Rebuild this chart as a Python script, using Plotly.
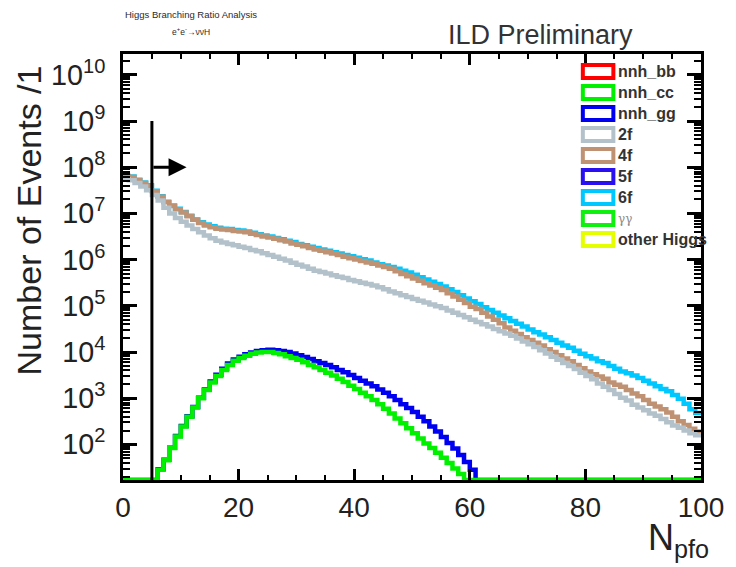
import math
import plotly.graph_objects as go

# ---------------------------------------------------------------------------
# N_pfo histograms, unit bins from 0 to 100.
# Values are log10(events per bin); None marks an empty bin.
# ---------------------------------------------------------------------------
bin_edges = list(range(0, 101))

log10_2f = [
    7.74, 7.72, 7.66, 7.58, 7.50, 7.40, 7.28, 7.12, 7.00, 6.90,
    6.82, 6.74, 6.66, 6.59, 6.52, 6.46, 6.41, 6.37, 6.34, 6.31,
    6.28, 6.25, 6.21, 6.18, 6.14, 6.10, 6.06, 6.02, 5.98, 5.93,
    5.89, 5.85, 5.80, 5.76, 5.73, 5.70, 5.66, 5.63, 5.60, 5.56,
    5.53, 5.50, 5.47, 5.44, 5.40, 5.36, 5.31, 5.27, 5.23, 5.19,
    5.15, 5.11, 5.07, 5.03, 4.99, 4.95, 4.90, 4.85, 4.80, 4.75,
    4.70, 4.65, 4.60, 4.55, 4.50, 4.45, 4.40, 4.35, 4.29, 4.23,
    4.17, 4.11, 4.04, 3.97, 3.90, 3.83, 3.76, 3.70, 3.63, 3.55,
    3.48, 3.41, 3.32, 3.25, 3.18, 3.09, 3.01, 2.95, 2.86, 2.80,
    2.74, 2.67, 2.62, 2.55, 2.48, 2.41, 2.36, 2.30, 2.24, 2.20,
]

log10_4f = [
    7.80, 7.79, 7.72, 7.66, 7.60, 7.48, 7.36, 7.24, 7.16, 7.09,
    7.02, 6.94, 6.86, 6.79, 6.74, 6.70, 6.67, 6.65, 6.64, 6.62,
    6.61, 6.59, 6.56, 6.53, 6.50, 6.48, 6.45, 6.42, 6.39, 6.35,
    6.32, 6.29, 6.25, 6.22, 6.19, 6.16, 6.13, 6.10, 6.06, 6.03,
    6.00, 5.97, 5.94, 5.91, 5.87, 5.84, 5.80, 5.75, 5.69, 5.64,
    5.59, 5.54, 5.49, 5.44, 5.39, 5.34, 5.27, 5.20, 5.13, 5.06,
    4.98, 4.93, 4.85, 4.77, 4.70, 4.62, 4.53, 4.46, 4.39, 4.32,
    4.26, 4.20, 4.14, 4.06, 4.00, 3.93, 3.86, 3.80, 3.72, 3.65,
    3.58, 3.52, 3.47, 3.42, 3.34, 3.29, 3.25, 3.18, 3.10, 3.04,
    2.96, 2.88, 2.82, 2.76, 2.69, 2.60, 2.50, 2.42, 2.34, 2.28,
]

log10_6f = [
    7.81, 7.80, 7.73, 7.67, 7.61, 7.49, 7.37, 7.25, 7.17, 7.10,
    7.03, 6.95, 6.87, 6.81, 6.76, 6.72, 6.69, 6.67, 6.66, 6.64,
    6.63, 6.61, 6.58, 6.55, 6.52, 6.50, 6.47, 6.44, 6.41, 6.38,
    6.34, 6.31, 6.28, 6.25, 6.22, 6.19, 6.16, 6.13, 6.10, 6.07,
    6.04, 6.01, 5.98, 5.94, 5.90, 5.87, 5.84, 5.80, 5.76, 5.72,
    5.67, 5.62, 5.57, 5.52, 5.47, 5.42, 5.36, 5.30, 5.23, 5.16,
    5.10, 5.04, 4.97, 4.91, 4.85, 4.79, 4.73, 4.67, 4.61, 4.55,
    4.49, 4.43, 4.38, 4.32, 4.26, 4.20, 4.14, 4.09, 4.03, 3.96,
    3.91, 3.86, 3.80, 3.76, 3.70, 3.64, 3.58, 3.54, 3.49, 3.44,
    3.38, 3.32, 3.26, 3.20, 3.15, 3.07, 2.99, 2.88, 2.76, 2.68,
]

log10_nnh_gg = [
    None, None, None, None, None, None, 1.46, 1.67, 1.93, 2.18,
    2.40, 2.61, 2.81, 3.01, 3.19, 3.36, 3.51, 3.64, 3.75, 3.84,
    3.90, 3.95, 3.99, 4.02, 4.04, 4.05, 4.04, 4.02, 4.00, 3.97,
    3.93, 3.89, 3.85, 3.80, 3.76, 3.72, 3.67, 3.61, 3.56, 3.50,
    3.44, 3.38, 3.32, 3.26, 3.19, 3.12, 3.04, 2.96, 2.87, 2.79,
    2.70, 2.60, 2.50, 2.39, 2.28, 2.16, 2.03, 1.91, 1.77, 1.62,
    1.45, None, None, None, None, None, None, None, None, None,
    None, None, None, None, None, None, None, None, None, None,
    None, None, None, None, None, None, None, None, None, None,
    None, None, None, None, None, None, None, None, None, None,
]

log10_nnh_cc = [
    None, None, None, None, None, None, 1.45, 1.66, 1.92, 2.17,
    2.39, 2.60, 2.80, 3.00, 3.18, 3.34, 3.48, 3.61, 3.72, 3.81,
    3.87, 3.92, 3.96, 3.99, 4.00, 4.00, 3.98, 3.95, 3.91, 3.87,
    3.83, 3.78, 3.72, 3.67, 3.61, 3.55, 3.49, 3.42, 3.35, 3.27,
    3.20, 3.12, 3.04, 2.96, 2.87, 2.77, 2.67, 2.56, 2.46, 2.35,
    2.24, 2.13, 2.02, 1.92, 1.82, 1.71, 1.60, 1.48, 1.36, None,
    None, None, None, None, None, None, None, None, None, None,
    None, None, None, None, None, None, None, None, None, None,
    None, None, None, None, None, None, None, None, None, None,
    None, None, None, None, None, None, None, None, None, None,
]

# selection cut on N_pfo (keep events to the right)
npfo_cut = 5
cut_line_top = 1e9
cut_arrow_tip = 11
cut_arrow_level = 1e8

legend_names = ["nnh_bb", "nnh_cc", "nnh_gg", "2f", "4f", "5f", "6f", "γγ", "other Higgs"]
legend_colors = ["#ff0000", "#00f000", "#0000f0", "#b3c1ca", "#c09274",
                 "#2a10f0", "#00c8ff", "#10f010", "#e6ff00"]

y_log_range = [1.23, 10.45]
x_range = [0, 100]

# plot-area geometry in pixels (used to place the free text)
W, H = 736, 567
L, R, T, B = 123, 710, 54, 480


def fx(px):
    return (px - L) / (R - L)


def fy(py):
    return (B - py) / (B - T)


floor_value = 10 ** y_log_range[0]   # empty bins sit on the lower frame edge


def step_xy(log_vals):
    ys = [floor_value if v is None else 10 ** v for v in log_vals]
    return bin_edges, ys + [ys[-1]]


fig = go.Figure()

series = [
    (log10_6f, "#00c8ff"),
    (log10_4f, "#c09274"),
    (log10_2f, "#b3c1ca"),
    (log10_nnh_gg, "#0000f0"),
    (log10_nnh_cc, "#00f000"),
]
for vals, col in series:
    xs, ys = step_xy(vals)
    fig.add_trace(go.Scatter(x=xs, y=ys, mode="lines", line_shape="hv",
                             line=dict(color=col, width=4.5), hoverinfo="skip"))

# cut line
fig.add_trace(go.Scatter(x=[npfo_cut, npfo_cut], y=[floor_value, cut_line_top],
                         mode="lines", line=dict(color="black", width=3),
                         hoverinfo="skip"))

arrow_y = math.log10(cut_arrow_level)
fig.add_annotation(x=cut_arrow_tip, y=arrow_y, ax=npfo_cut, ay=arrow_y,
                   xref="x", yref="y", axref="x", ayref="y", text="",
                   showarrow=True, arrowhead=2, arrowsize=1.2, arrowwidth=3,
                   arrowcolor="black")

font_family = "Liberation Sans, Arial, Helvetica, sans-serif"

# legend: hollow boxes with labels
shapes = []
for i, (name, col) in enumerate(zip(legend_names, legend_colors)):
    cy = 71.5 + 21.0 * i
    shapes.append(dict(type="rect", xref="paper", yref="paper",
                       x0=fx(590), x1=fx(621), y0=fy(cy + 6.5), y1=fy(cy - 6.5),
                       line=dict(color=col, width=4), fillcolor="white", layer="above"))
    if name == "γγ":
        fnt = dict(family="DejaVu Serif, serif", size=12, color="#8a8a8a")
    else:
        fnt = dict(family=font_family, size=16, color="#333333", weight="bold")
    fig.add_annotation(x=fx(624), y=fy(cy), xref="paper", yref="paper", text=name,
                       showarrow=False, xanchor="left", yanchor="middle", font=fnt)

fig.add_annotation(x=fx(192), y=fy(15), xref="paper", yref="paper",
                   text="Higgs Branching Ratio Analysis", showarrow=False,
                   xanchor="center", yanchor="middle",
                   font=dict(family=font_family, size=9.5, color="#2a2a2a"))
fig.add_annotation(x=fx(192), y=fy(32), xref="paper", yref="paper",
                   text="e<sup>+</sup>e<sup>-</sup>→ννH", showarrow=False,
                   xanchor="center", yanchor="middle",
                   font=dict(family=font_family, size=8.5, color="#2a2a2a"))
fig.add_annotation(x=fx(547), y=fy(35), xref="paper", yref="paper",
                   text="ILD Preliminary", showarrow=False,
                   xanchor="center", yanchor="middle",
                   font=dict(family=font_family, size=27, color="#333333"))
fig.add_annotation(x=fx(28), y=fy(220), xref="paper", yref="paper",
                   text="Number of Events /1", showarrow=False, textangle=-90,
                   xanchor="center", yanchor="middle",
                   font=dict(family=font_family, size=34, color="#222222"))
fig.add_annotation(x=fx(720), y=fy(540), xref="paper", yref="paper",
                   text="N<sub>pfo</sub>", showarrow=False,
                   xanchor="right", yanchor="middle",
                   font=dict(family=font_family, size=36, color="#222222"))

fig.update_layout(
    width=W, height=H,
    margin=dict(l=L, r=W - R, t=T, b=H - B),
    paper_bgcolor="white", plot_bgcolor="white",
    showlegend=False, shapes=shapes,
    font=dict(family=font_family, color="#222222"),
)
fig.update_xaxes(
    range=x_range, tick0=0, dtick=20, ticks="inside", ticklen=11, tickwidth=3,
    tickcolor="black", showline=True, linewidth=3, linecolor="black",
    mirror="ticks", showgrid=False, zeroline=False,
    tickfont=dict(size=28, color="#222222"), ticklabelstandoff=0,
    minor=dict(dtick=5, tick0=0, ticks="inside", ticklen=5, tickwidth=2,
               tickcolor="black", showgrid=False),
)
fig.update_yaxes(
    type="log", range=y_log_range, dtick=1, exponentformat="power",
    ticks="inside", ticklen=14, tickwidth=3, tickcolor="black",
    showline=True, linewidth=3, linecolor="black", mirror="ticks",
    showgrid=False, zeroline=False,
    tickfont=dict(size=23, color="#222222"), ticklabelstandoff=10,
    minor=dict(ticks="inside", ticklen=7, tickwidth=2, tickcolor="black",
               showgrid=False),
)

fig.write_html("out.html", config={"displayModeBar": False})
